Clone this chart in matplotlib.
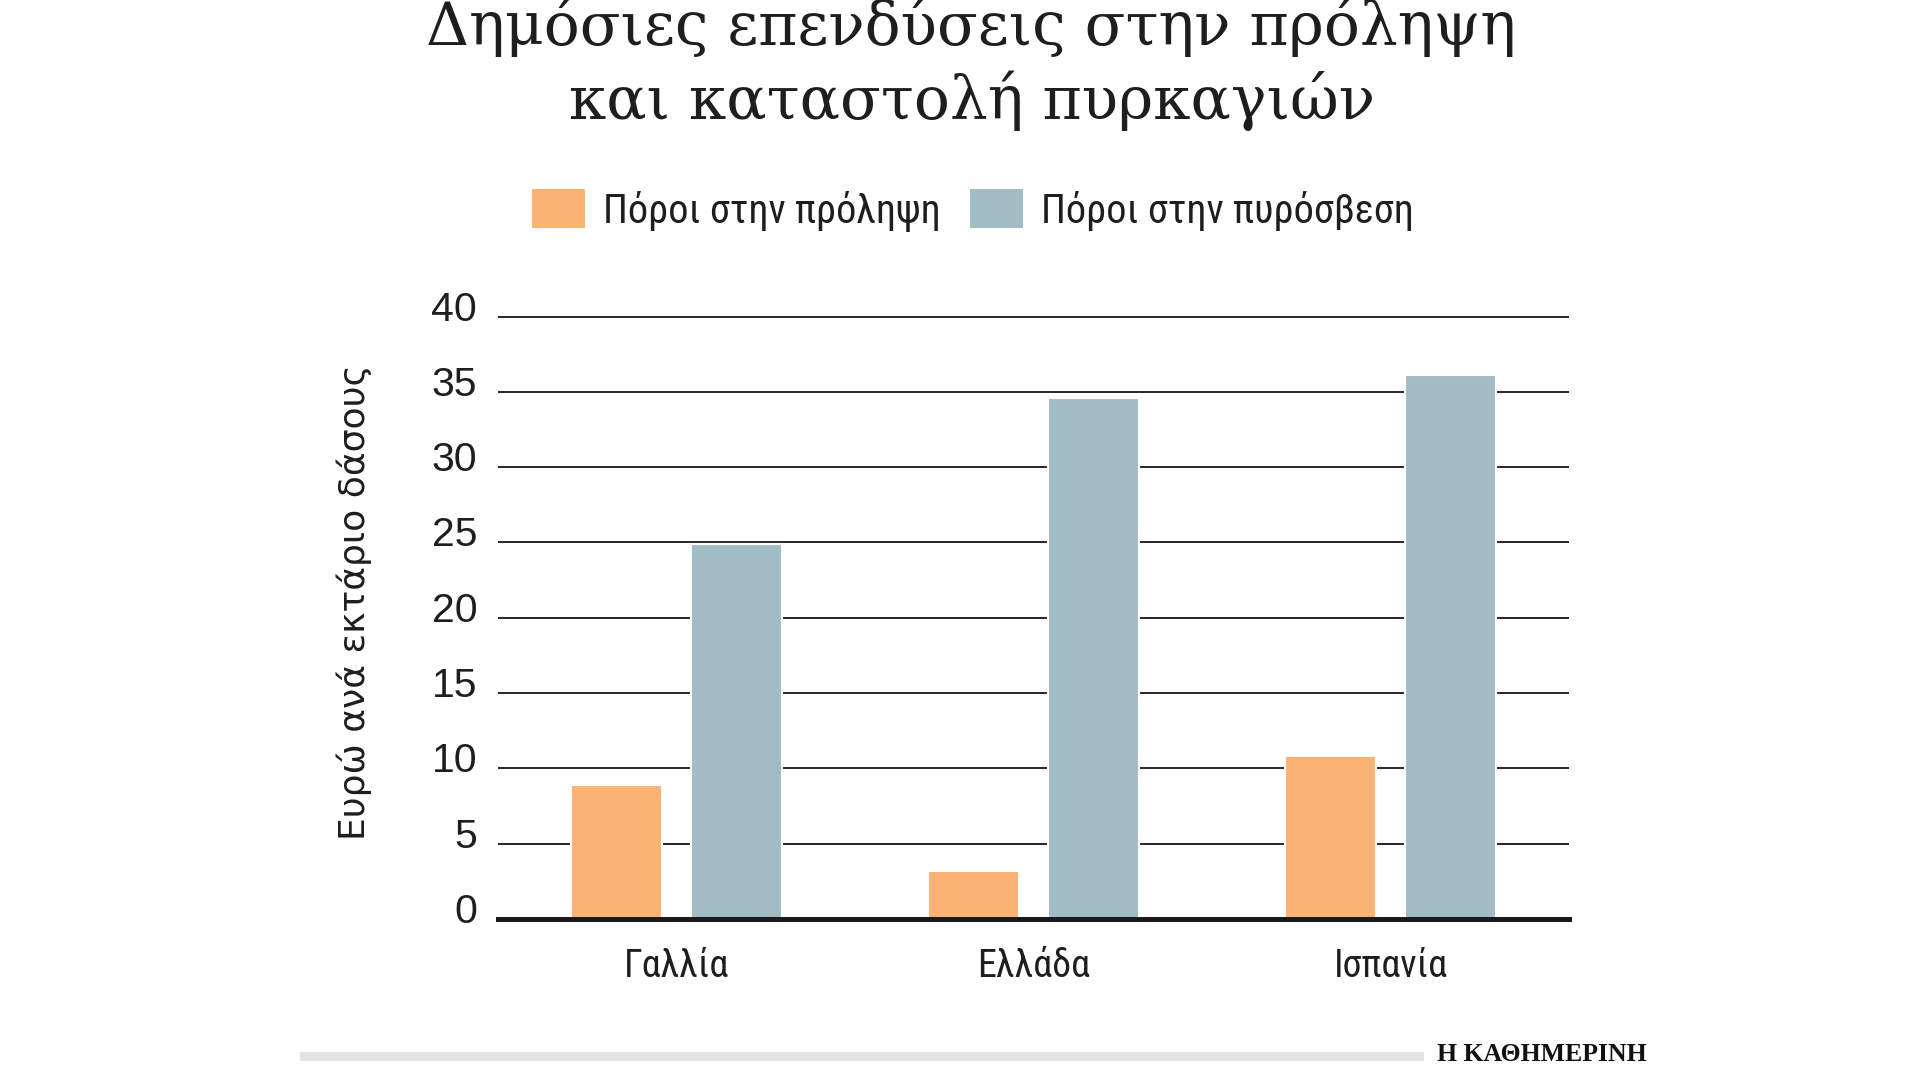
import numpy as np
import matplotlib
matplotlib.use('Agg')
import matplotlib.pyplot as plt
from matplotlib import font_manager
from matplotlib.lines import Line2D
from matplotlib.transforms import ScaledTranslation

# data
countries = ['Γαλλία', 'Ελλάδα', 'Ισπανία']
prevention = [8.9, 3.2, 10.8]
firefighting = [24.9, 34.6, 36.1]
series_names = ['Πόροι στην πρόληψη', 'Πόροι στην πυρόσβεση']
y_ticks = [0, 5, 10, 15, 20, 25, 30, 35, 40]
title_lines = ['Δημόσιες επενδύσεις στην πρόληψη', 'και καταστολή πυρκαγιών']
y_label = 'Ευρώ ανά εκτάριο δάσους'
source = 'Η ΚΑΘΗΜΕΡΙΝΗ'

orange = '#fbb273'
blue = '#a2bcc6'
ink = '#1e1e1e'

# pick a narrow sans if one is installed
installed = {f.name for f in font_manager.fontManager.ttflist}
narrow = 'DejaVu Sans'
for cand in ['Roboto Condensed', 'Liberation Sans Narrow', 'Open Sans Condensed',
             'Noto Sans Condensed']:
    if cand in installed:
        narrow = cand
        break

fig = plt.figure(figsize=(19.2, 10.8), dpi=100)
ax = fig.add_axes([498 / 1920, 161 / 1080, 1071 / 1920, 610 / 1080])

x = np.arange(len(countries))
w = 0.255
off = 0.168
b1 = ax.bar(x - off, prevention, w, color=orange, edgecolor='white', linewidth=1.5,
            label=series_names[0])
b2 = ax.bar(x + off, firefighting, w, color=blue, edgecolor='white', linewidth=1.5,
            label=series_names[1])

ax.set_xlim(-0.5, 2.5)
ax.set_ylim(0, 40.5)
ax.set_yticks(y_ticks)
ax.set_yticklabels([str(t) for t in y_ticks], fontfamily='Liberation Sans', fontsize=29.5,
                   color=ink)
ax.set_xticks(x)
ax.set_xticklabels(countries, fontfamily=narrow, fontsize=27.5, color=ink)
ax.tick_params(axis='y', length=0, pad=15)
ax.tick_params(axis='x', length=0, pad=21)

# numbers sit a little above their gridlines
lift = ScaledTranslation(0, 11 / 100, fig.dpi_scale_trans)
for lab in ax.get_yticklabels():
    lab.set_transform(lab.get_transform() + lift)

ax.set_axisbelow(True)
ax.yaxis.grid(True, color='#262626', linewidth=1.4)
for s in ['top', 'right', 'left']:
    ax.spines[s].set_visible(False)
ax.spines['bottom'].set_linewidth(3.6)
ax.spines['bottom'].set_color('#1a1a1a')

ax.set_ylabel(y_label, fontfamily='DejaVu Sans', fontsize=26, color=ink)
ax.yaxis.set_label_coords(-0.118, 0.52)

# title
fig.text(0.506, 1 - 45 / 1080, title_lines[0], ha='center', va='baseline',
         fontfamily='DejaVu Serif', fontsize=43, color=ink)
fig.text(0.506, 1 - 119 / 1080, title_lines[1], ha='center', va='baseline',
         fontfamily='DejaVu Serif', fontsize=43, color=ink)

# legend
fig.legend(handles=[b1, b2], labels=series_names, loc='center', ncol=2,
           bbox_to_anchor=(0.5065, 1 - 210 / 1080), frameon=False,
           prop={'family': narrow, 'size': 29}, handlelength=1.36, handleheight=1.19,
           handletextpad=0.42, columnspacing=0.7, labelcolor=ink)

# footer
fig.add_artist(Line2D([304 / 1920, 1419 / 1920], [1 - 1056 / 1080] * 2,
                      transform=fig.transFigure, color='#e5e3e1', linewidth=6.5))
fig.text(1437 / 1920, 1 - 1061 / 1080, source, ha='left', va='baseline',
         fontfamily='Liberation Serif', fontweight='bold', fontsize=18.5, color='#111111')

fig.savefig('out.png', dpi=100, facecolor='white')
